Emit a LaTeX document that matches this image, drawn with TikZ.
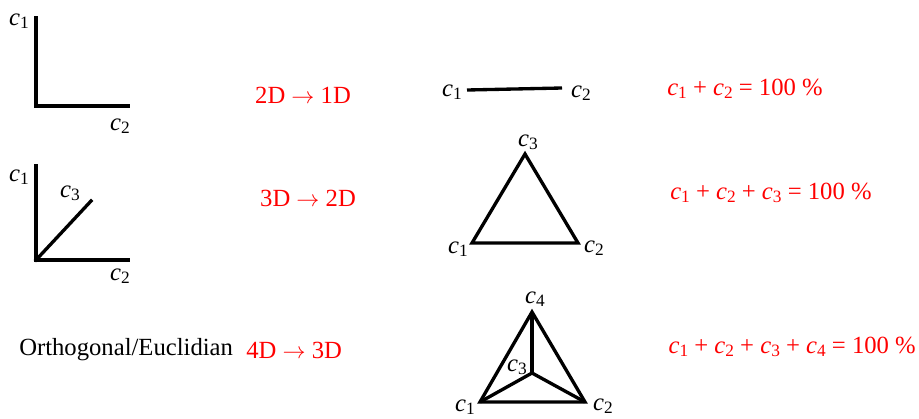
\documentclass[tikz,border=0pt]{standalone}
\usepackage{fontspec}
\setmainfont{Liberation Serif}
\newcommand{\cv}[1]{\textit{c}\raisebox{-0.3ex}{\fontsize{13}{14}\selectfont #1}}
\newcommand{\ar}{$\rightarrow$}
\begin{document}
\begin{tikzpicture}[x=0.75pt,y=-0.75pt,
  lbl/.style={font=\fontsize{18.5}{22}\selectfont, inner sep=0pt, anchor=center},
  red lbl/.style={lbl, text={rgb,255:red,255;green,0;blue,0}},
  axis/.style={line width=2.5pt, line cap=rect},
  edge/.style={line width=2.5pt, line join=miter}]
\useasboundingbox (0,0) rectangle (919,418);
% panel 1
\coordinate (o1) at (36,106);
\coordinate (a1) at (36,18);
\coordinate (b1) at (128,106);
\draw[axis] (a1) -- (o1) -- (b1);
\node[lbl] (l11) at (19,21) {\cv{1}};
\node[lbl] (l12) at (120,126) {\cv{2}};
% panel 2
\coordinate (o2) at (36,260);
\coordinate (a2) at (36,166);
\coordinate (b2) at (128,260);
\coordinate (d2) at (91,201);
\draw[axis] (a2) -- (o2) -- (b2);
\draw[axis] (o2) -- (d2);
\node[lbl] (l21) at (19,177) {\cv{1}};
\node[lbl] (l23) at (70,193) {\cv{3}};
\node[lbl] (l22) at (120,276) {\cv{2}};
% arrows text
\node[red lbl] (t1) at (303,95) {2D \ar{} 1D};
\node[red lbl] (t2) at (308,198) {3D \ar{} 2D};
\node[lbl, anchor=west] (orth) at (19,350) {Orthogonal/Euclidian};
\node[red lbl, anchor=west] (t3) at (246,350) {4D \ar{} 3D};
% line segment
\coordinate (s1) at (467,90);
\coordinate (s2) at (562,88);
\draw[edge] (s1) -- (s2);
\node[lbl] (ls1) at (452,92) {\cv{1}};
\node[lbl] (ls2) at (581,93) {\cv{2}};
% triangle
\coordinate (p1) at (472,243);
\coordinate (p2) at (578,243);
\coordinate (p3) at (525,154);
\draw[edge] (p1) -- (p2) -- (p3) -- cycle;
\node[lbl] (lp3) at (528,142) {\cv{3}};
\node[lbl] (lp1) at (458,249) {\cv{1}};
\node[lbl] (lp2) at (594,248) {\cv{2}};
% tetrahedron
\coordinate (q1) at (480,402);
\coordinate (q2) at (585,402);
\coordinate (q4) at (532,312);
\coordinate (q3) at (532,373);
\draw[edge] (q1) -- (q2) -- (q4) -- cycle;
\draw[edge] (q4) -- (q3);
\draw[edge] (q1) -- (q3) -- (q2);
\node[lbl] (lq4) at (535,299) {\cv{4}};
\node[lbl] (lq3) at (517,367) {\cv{3}};
\node[lbl] (lq1) at (465,407) {\cv{1}};
\node[lbl] (lq2) at (603,406) {\cv{2}};
% formulas
\node[red lbl, anchor=west] (f1) at (667,89) {\cv{1} + \cv{2} = 100 \%};
\node[red lbl, anchor=west] (f2) at (670,193) {\cv{1} + \cv{2} + \cv{3} = 100 \%};
\node[red lbl, anchor=east] (f3) at (916,347) {\cv{1} + \cv{2} + \cv{3} + \cv{4} = 100 \%};
\end{tikzpicture}
\end{document}
